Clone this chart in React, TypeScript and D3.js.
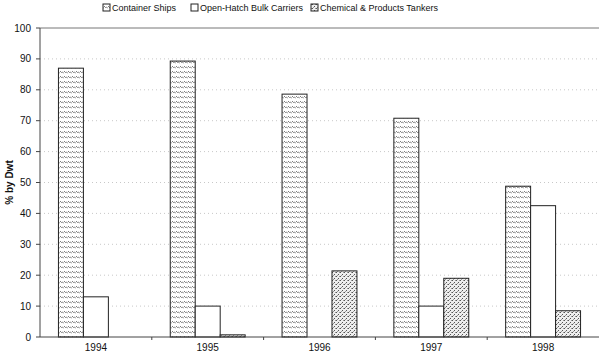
import React from "react";
import * as d3 from "d3";

const years = ["1994", "1995", "1996", "1997", "1998"];
const containerShips = [87, 89.3, 78.6, 70.8, 48.8];
const openHatch = [13, 10, 0, 10, 42.5];
const chemicalTankers = [0, 0.7, 21.4, 19, 8.5];
const seriesNames = ["Container Ships", "Open-Hatch Bulk Carriers", "Chemical & Products Tankers"];
const yTicks = [0, 10, 20, 30, 40, 50, 60, 70, 80, 90, 100];

const W = 600, H = 355;
const M = { left: 40, right: 1, top: 28, bottom: 18 };
const FONT = "'Liberation Sans', Arial, sans-serif";

export default function App() {
  const x = d3.scaleBand().domain(years).range([M.left, W - M.right]).paddingInner(0).paddingOuter(0);
  const y = d3.scaleLinear().domain([0, 100]).range([H - M.bottom, M.top]);
  const fills = ["url(#hatch)", "#ffffff", "url(#stipple)"];
  const series = [containerShips, openHatch, chemicalTankers];
  const groupW = x.bandwidth() * 0.67;
  const x1 = d3.scaleBand().domain(["0", "1", "2"]).range([0, groupW]);
  const legendX = [103, 191, 311];

  return (
    <svg width={W} height={H} style={{ position: "absolute", left: 0, top: 0, background: "#fff" }} fontFamily={FONT}>
      <defs>
        <pattern id="hatch" patternUnits="userSpaceOnUse" width="4" height="5">
          <rect width="4" height="5" fill="#fff" />
          <path d="M0,1 L1.5,2.5 M1.5,2.5 L2.5,2 M2.5,2 L4,3.5" stroke="#444" strokeWidth="0.7" fill="none" />
        </pattern>
        <pattern id="stipple" patternUnits="userSpaceOnUse" width="4" height="4">
          <rect width="4" height="4" fill="#eee" />
          <rect x="0" y="0" width="1" height="1" fill="#555" />
          <rect x="2" y="2" width="1" height="1" fill="#555" />
          <rect x="3" y="0" width="1" height="1" fill="#999" />
          <rect x="1" y="3" width="1" height="1" fill="#999" />
        </pattern>
      </defs>
      {yTicks.filter(t => t > 0).map(t => (
        <line key={t} x1={M.left} x2={W - M.right} y1={y(t)} y2={y(t)}
          stroke={t === 100 ? "#777" : "#c8c8c8"} strokeWidth={1}
          strokeDasharray={t === 100 ? undefined : "1,3"} />
      ))}
      {years.map((yr, i) => {
        const gx = x(yr)! + (x.bandwidth() - groupW) / 2;
        return series.map((s, j) => s[i] > 0 ? (
          <rect key={yr + j} x={gx + x1(String(j))!} y={y(s[i])} width={x1.bandwidth()}
            height={y(0) - y(s[i])} fill={fills[j]} stroke="#222" strokeWidth={1} />
        ) : null);
      })}
      <line x1={M.left} x2={M.left} y1={M.top} y2={y(0)} stroke="#444" />
      <line x1={M.left} x2={W - M.right} y1={y(0)} y2={y(0)} stroke="#444" />
      {yTicks.map(t => (
        <g key={"yt" + t}>
          <line x1={M.left - 4} x2={M.left} y1={y(t)} y2={y(t)} stroke="#444" />
          <text x={M.left - 9} y={y(t)} dy="0.35em" textAnchor="end" fontSize={10} fill="#111">{t}</text>
        </g>
      ))}
      {years.map((yr, i) => (
        <g key={"xt" + yr}>
          {i > 0 && <line x1={x(yr)} x2={x(yr)} y1={y(0)} y2={y(0) + 3} stroke="#444" />}
          <text x={x(yr)! + x.bandwidth() / 2} y={351} textAnchor="middle" fontSize={10} fill="#111">{yr}</text>
        </g>
      ))}
      <text transform={`translate(13,${(M.top + y(0)) / 2}) rotate(-90)`} textAnchor="middle"
        fontSize={10} fontWeight="bold" fill="#111">% by Dwt</text>
      {seriesNames.map((n, j) => (
        <g key={n}>
          <rect x={legendX[j]} y={4} width={7} height={7} fill={fills[j]} stroke="#222" strokeWidth={1} />
          <text x={legendX[j] + 9} y={11} fontSize={9} fill="#111">{n}</text>
        </g>
      ))}
    </svg>
  );
}
